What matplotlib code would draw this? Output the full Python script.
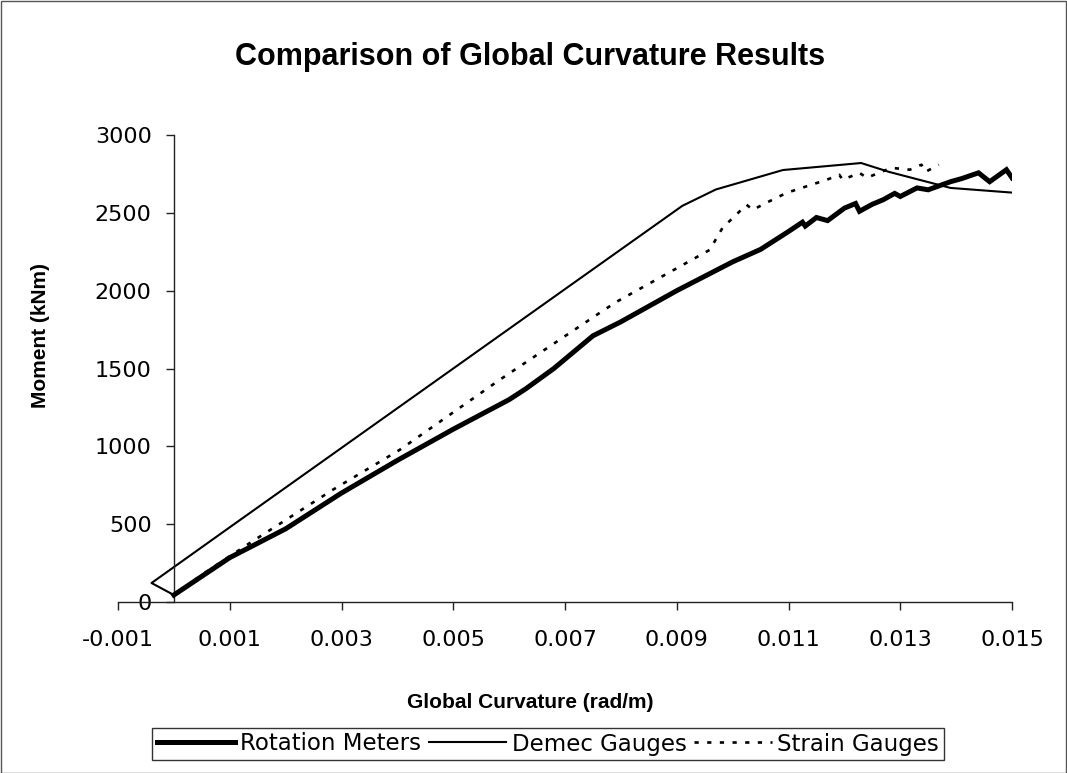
import numpy as np
import matplotlib
matplotlib.use("Agg")
import matplotlib.pyplot as plt
from matplotlib.patches import Rectangle

# Moment-curvature results from three instrumentation methods
rot_curv = [0.0, 0.0005, 0.001, 0.002, 0.003, 0.004, 0.005, 0.006, 0.0063,
            0.0068, 0.0075, 0.008, 0.009, 0.010, 0.0105, 0.011, 0.01125,
            0.0113, 0.0115, 0.0117, 0.0120, 0.0122, 0.01227, 0.0125, 0.0127,
            0.0129, 0.0130, 0.0133, 0.0135, 0.0139, 0.0141, 0.0144, 0.0146,
            0.0149, 0.0150]
rot_moment = [45, 165, 285, 470, 700, 910, 1110, 1300, 1370,
              1500, 1710, 1800, 2000, 2185, 2265, 2380, 2440,
              2415, 2470, 2450, 2530, 2560, 2510, 2555, 2585,
              2625, 2605, 2660, 2648, 2700, 2720, 2757, 2700,
              2777, 2725]

demec_curv = [0.0, -0.0004, 0.001, 0.003, 0.005, 0.007, 0.0091, 0.0097,
              0.0109, 0.0123, 0.0128, 0.0139, 0.0150]
demec_moment = [45, 122, 480, 990, 1500, 2010, 2545, 2650,
                2775, 2820, 2763, 2660, 2630]

strain_curv = [0.0, 0.0005, 0.00136, 0.00284, 0.00404, 0.00583, 0.00762,
               0.00792, 0.00959, 0.00982, 0.01025, 0.01036, 0.0106, 0.01097,
               0.01168, 0.01191, 0.01197, 0.01227, 0.0124, 0.01284, 0.01317,
               0.01338, 0.01345, 0.01369]
strain_moment = [45, 175, 379, 720, 977, 1427, 1857,
                 1928, 2262, 2404, 2552, 2519, 2564, 2629,
                 2712, 2744, 2712, 2757, 2725, 2789, 2777,
                 2809, 2763, 2809]

x_ticks = [-0.001, 0.001, 0.003, 0.005, 0.007, 0.009, 0.011, 0.013, 0.015]
x_tick_labels = ["-0.001", "0.001", "0.003", "0.005", "0.007", "0.009",
                 "0.011", "0.013", "0.015"]
y_ticks = [0, 500, 1000, 1500, 2000, 2500, 3000]
y_tick_labels = ["0", "500", "1000", "1500", "2000", "2500", "3000"]

W, H = 1067, 773
fig = plt.figure(figsize=(W / 100, H / 100), dpi=100)
fig.patch.set_facecolor("white")

# plot area in pixel units
left_px, right_px, top_px, bottom_px = 118, 1012, 135, 602
ax = fig.add_axes([left_px / W, 1 - bottom_px / H,
                   (right_px - left_px) / W, (bottom_px - top_px) / H])

ax.plot(rot_curv, rot_moment, color="black", lw=3.6,
        solid_joinstyle="miter", label="Rotation Meters", zorder=3)
ax.plot(demec_curv, demec_moment, color="black", lw=1.5,
        label="Demec Gauges", zorder=2)
ax.plot(strain_curv, strain_moment, color="black", lw=1.9,
        linestyle=(0, (1.6, 3.2)), label="Strain Gauges", zorder=2)

ax.set_xlim(-0.001, 0.015)
ax.set_ylim(0, 3000)
ax.spines["left"].set_position(("data", 0))
ax.spines["top"].set_visible(False)
ax.spines["right"].set_visible(False)
for s in ("left", "bottom"):
    ax.spines[s].set_linewidth(1.0)
    ax.spines[s].set_color("#222222")

tick_font = dict(family="DejaVu Sans", size=16)
ax.set_xticks(x_ticks)
ax.set_xticklabels(x_tick_labels, fontdict=tick_font)
ax.set_yticks(y_ticks)
ax.set_yticklabels(y_tick_labels, fontdict=tick_font)
ax.tick_params(axis="both", direction="out", length=6, width=1,
               color="#222222")
ax.tick_params(axis="x", pad=14)
ax.tick_params(axis="y", pad=10)

bold = dict(family="Liberation Sans", weight="bold")
fig.text(530 / W, 1 - 57 / H, "Comparison of Global Curvature Results",
         ha="center", va="center", fontsize=22, **bold)
fig.text(530 / W, 1 - 703 / H, "Global Curvature (rad/m)",
         ha="center", va="center", fontsize=15, **bold)
fig.text(40 / W, 1 - 335 / H, "Moment (kNm)", rotation=90,
         ha="center", va="center", fontsize=15, **bold)

leg = fig.legend(loc="center left", bbox_to_anchor=(152 / W, 1 - 744 / H),
                 ncol=3, frameon=True, fancybox=False, edgecolor="black",
                 prop=dict(family="DejaVu Sans", size=16.5),
                 handlelength=3.4, handletextpad=0.22, columnspacing=0.35,
                 borderpad=0.2, borderaxespad=0)
leg.get_frame().set_linewidth(1.0)

# outer chart border
fig.patches.append(Rectangle((0.5 / W, 0.5 / H), 1 - 1.5 / W, 1 - 1.5 / H,
                             transform=fig.transFigure, fill=False,
                             edgecolor="#555555", lw=1.0))

fig.savefig("out.png", dpi=100, facecolor="white")
